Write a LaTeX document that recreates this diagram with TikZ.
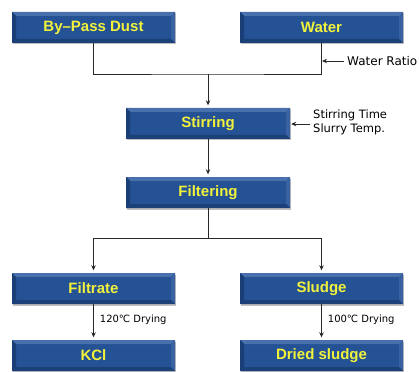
\documentclass[tikz,border=0pt]{standalone}
\usepackage{fontspec}
\setmainfont{Liberation Sans}
\newfontfamily\lblfont{DejaVu Sans}
\usetikzlibrary{arrows.meta,shadows}
\definecolor{mainblue}{RGB}{36,82,148}
\definecolor{topbev}{RGB}{72,112,172}
\definecolor{leftbev}{RGB}{26,62,118}
\definecolor{rightbev}{RGB}{58,98,162}
\definecolor{botbev}{RGB}{28,64,120}
\definecolor{ytext}{RGB}{242,242,60}
\definecolor{linec}{RGB}{40,40,40}
\tikzset{
  box/.style={minimum width=163pt, minimum height=31pt, inner sep=0pt,
    fill=mainblue, text=ytext, font=\fontsize{15}{17}\selectfont\bfseries,
    general shadow={shadow xshift=1pt, shadow yshift=-1.5pt, fill=black!25},
    path picture={
      \fill[topbev] (path picture bounding box.north west) -- (path picture bounding box.north east)
        -- ([shift={(-4pt,-4pt)}]path picture bounding box.north east) -- ([shift={(4pt,-4pt)}]path picture bounding box.north west) -- cycle;
      \fill[leftbev] (path picture bounding box.north west) -- ([shift={(4pt,-4pt)}]path picture bounding box.north west)
        -- ([shift={(4pt,4pt)}]path picture bounding box.south west) -- (path picture bounding box.south west) -- cycle;
      \fill[rightbev] (path picture bounding box.north east) -- ([shift={(-4pt,-4pt)}]path picture bounding box.north east)
        -- ([shift={(-4pt,4pt)}]path picture bounding box.south east) -- (path picture bounding box.south east) -- cycle;
      \fill[botbev] (path picture bounding box.south west) -- (path picture bounding box.south east)
        -- ([shift={(-4pt,4pt)}]path picture bounding box.south east) -- ([shift={(4pt,4pt)}]path picture bounding box.south west) -- cycle;
    }},
  conn/.style={draw=linec, line width=0.8pt},
  arr/.style={conn, -{Stealth[length=5pt,width=4.5pt]}, shorten >=2.5pt},
  lbl/.style={font=\lblfont\fontsize{11.5}{13.5}\selectfont, text=black, inner sep=0pt, align=left},
  smlbl/.style={font=\lblfont\fontsize{10}{12}\selectfont, text=black, inner sep=0pt}
}
\begin{document}
\begin{tikzpicture}[x=1pt,y=-1pt]
\useasboundingbox[fill=white] (0,0) rectangle (419,371);
\node[box] (bp) at (93.5,27.5) {By{\textendash}Pass Dust};
\node[box] (water) at (321.5,27.5) {Water};
\node[box, minimum width=164pt] (stir) at (208,123.5) {Stirring};
\node[box, minimum width=164pt] (filt) at (208,192.5) {Filtering};
\node[box] (filtrate) at (93.5,288.5) {Filtrate};
\node[box] (sludge) at (321.5,288.5) {Sludge};
\node[box] (kcl) at (93.5,355.5) {KCl};
\node[box] (dried) at (321.5,355.5) {Dried sludge};
% merge
\coordinate (j1) at (208,74);
\draw[conn] (bp.south) |- (j1) -| (water.south);
\draw[arr] (j1) -- (stir.north);
% water ratio
\coordinate (wl) at (321.5,61);
\coordinate (wr) at (344,61);
\draw[arr, shorten >=0.5pt] (wr) -- (wl);
\node[lbl, anchor=west, font=\lblfont\fontsize{12}{14}\selectfont] (wrt) at (347,61) {Water Ratio};
% stirring params
\coordinate (sr) at (310,124);
\draw[arr, shorten >=1pt] (sr) -- (stir.east |- sr);
\node[lbl, anchor=west] (stt) at (313,122.5) {Stirring Time\\Slurry Temp.};
% stirring -> filtering
\draw[arr] (stir.south) -- (filt.north);
% split
\coordinate (j2) at (208,238);
\draw[conn] (filt.south) -- (j2);
\draw[arr] (j2) -| (filtrate.north);
\draw[arr] (j2) -| (sludge.north);
% drying
\draw[arr] (filtrate.south) -- (kcl.north) node[smlbl, pos=0.45, anchor=west, xshift=6pt] (d1) {120℃ Drying};
\draw[arr] (sludge.south) -- (dried.north) node[smlbl, pos=0.45, anchor=west, xshift=6pt] (d2) {100℃ Drying};
\end{tikzpicture}
\end{document}
